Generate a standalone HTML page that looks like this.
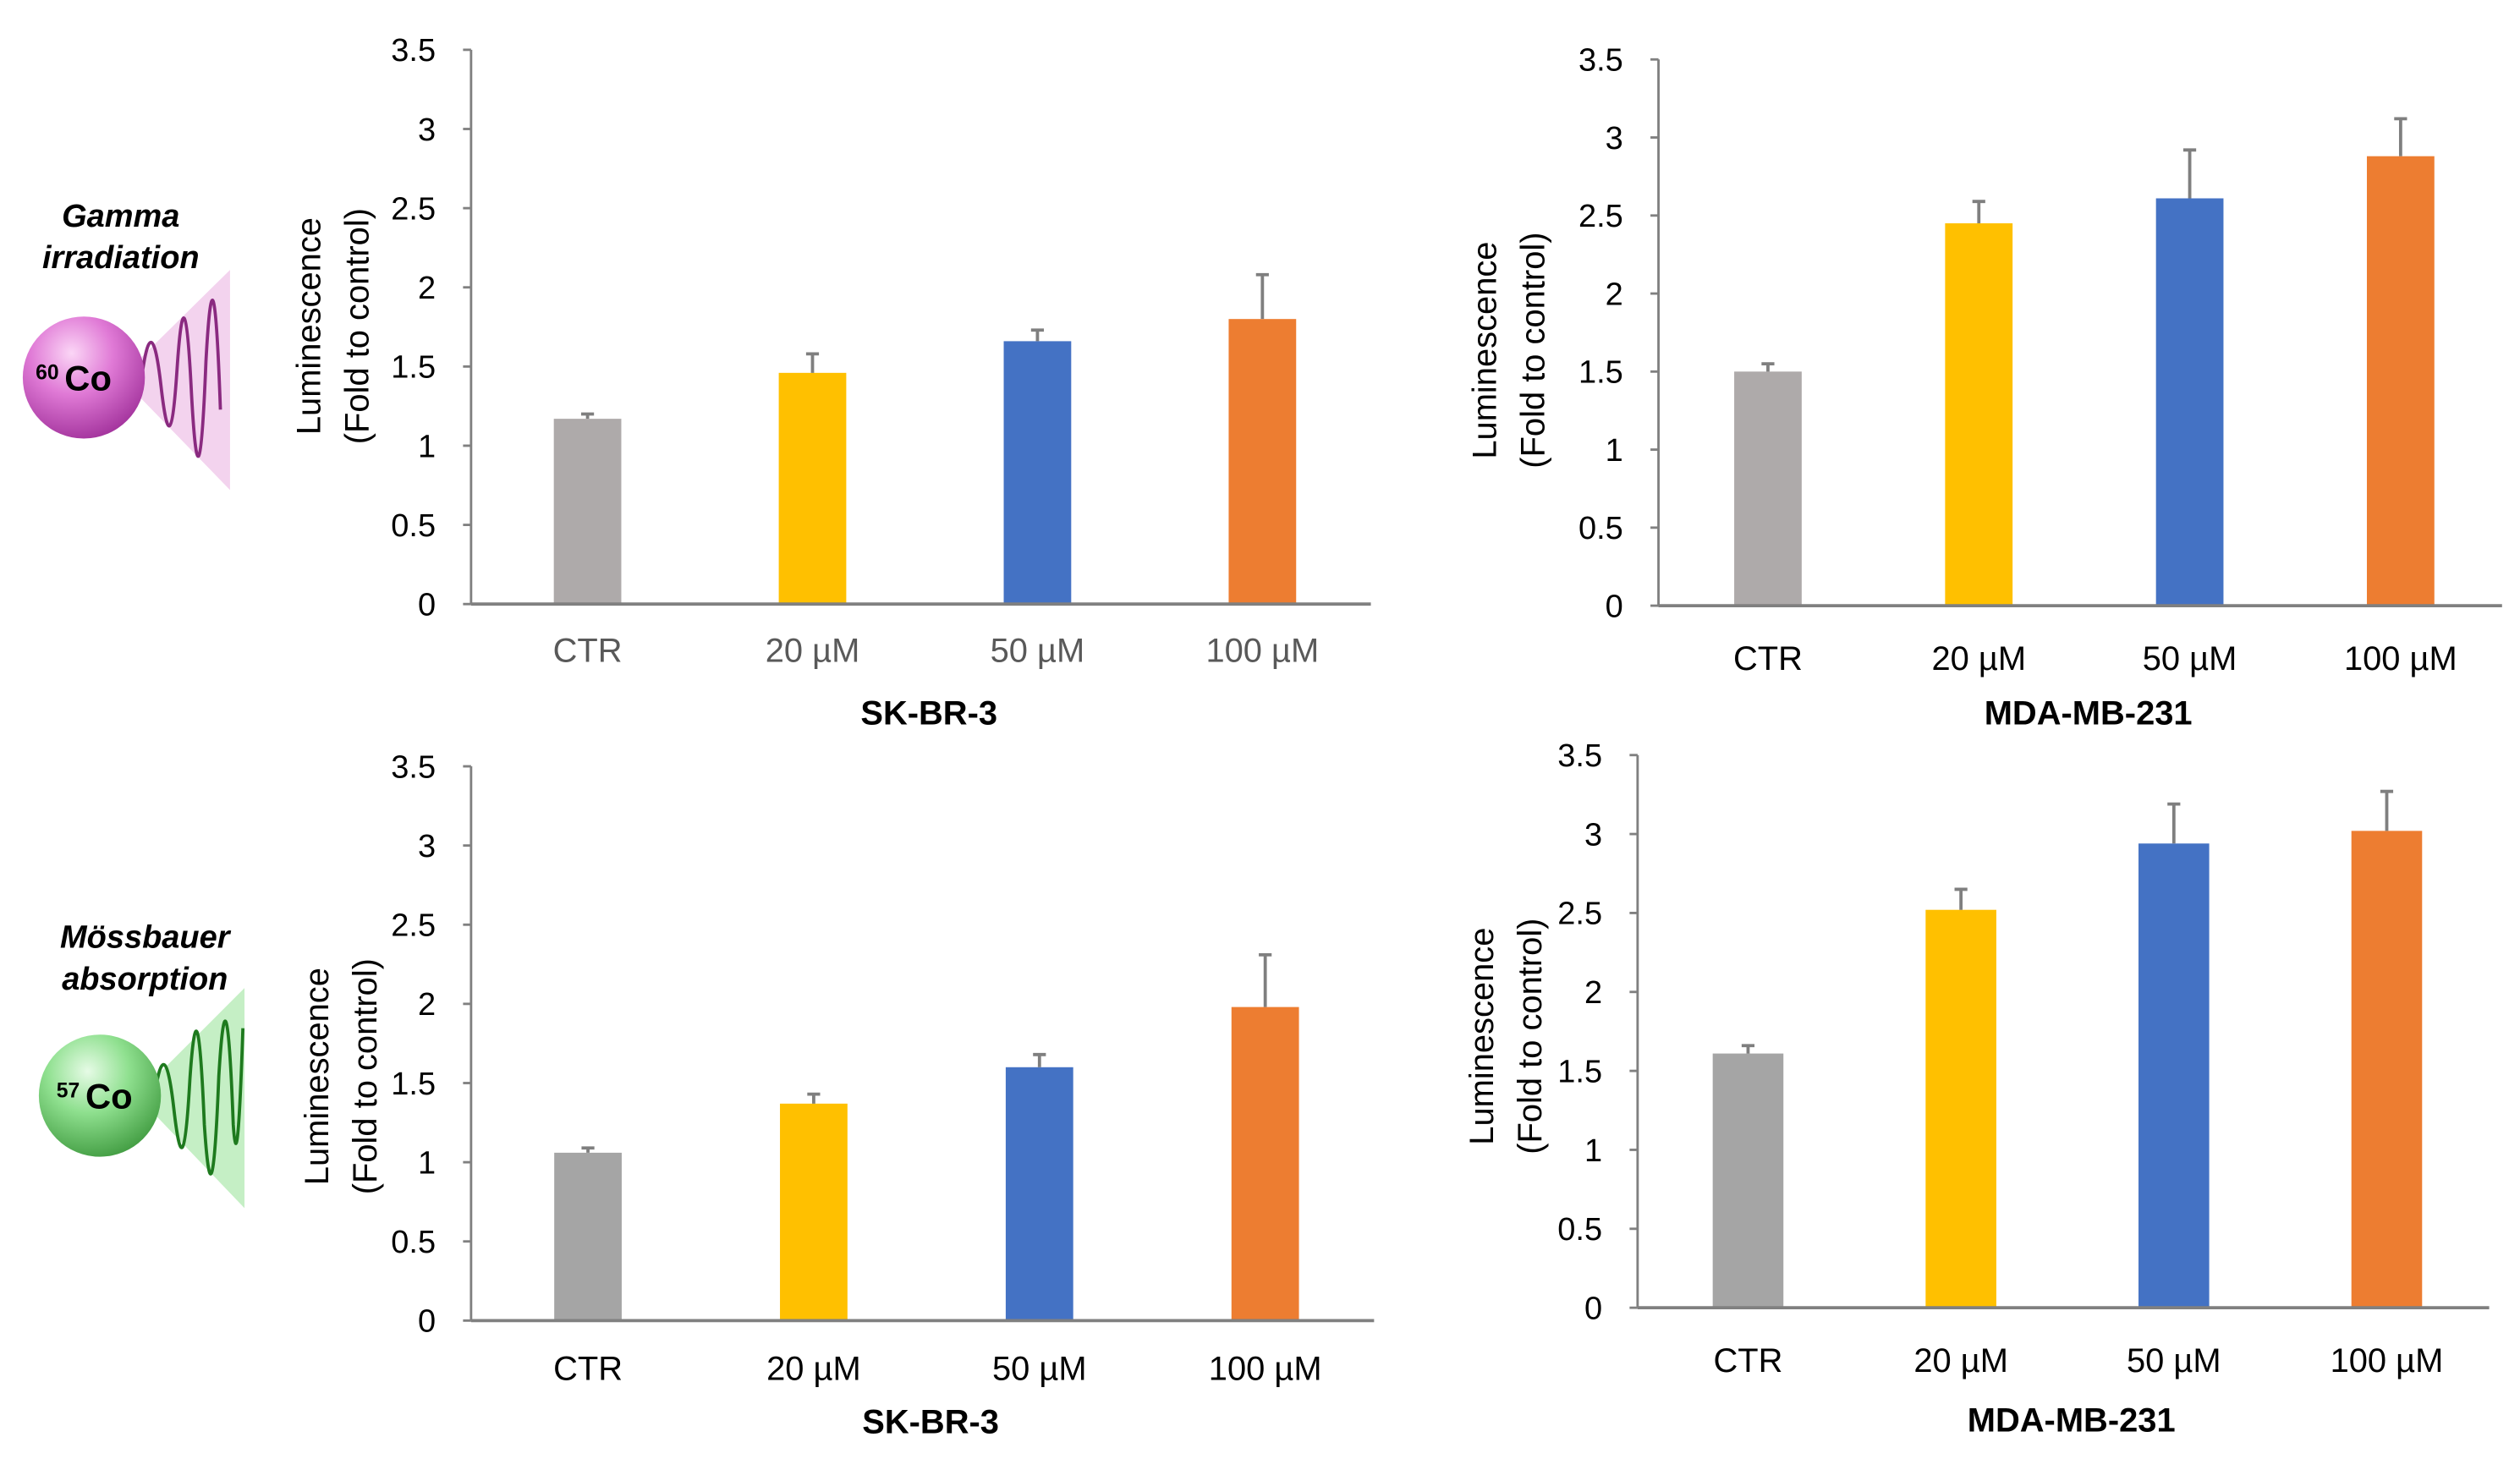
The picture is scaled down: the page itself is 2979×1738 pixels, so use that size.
<!DOCTYPE html>
<html><head><meta charset="utf-8">
<style>
html,body{margin:0;padding:0;background:#fff;}
svg{display:block;}
text{font-family:"Liberation Sans",sans-serif;}
</style></head>
<body>
<svg id="fig" width="2979" height="1738" viewBox="0 0 1568 915" xmlns="http://www.w3.org/2000/svg">
<defs>
<radialGradient id="gPink" cx="0.4" cy="0.3" r="0.75">
<stop offset="0" stop-color="#fbd6f6"/><stop offset="0.45" stop-color="#e07ad6"/><stop offset="1" stop-color="#a0309a"/>
</radialGradient>
<radialGradient id="gGreen" cx="0.4" cy="0.3" r="0.75">
<stop offset="0" stop-color="#e6fbe6"/><stop offset="0.45" stop-color="#8fe08f"/><stop offset="1" stop-color="#3f9a3f"/>
</radialGradient>
</defs>
<g>
<text x="75" y="141" text-anchor="middle" font-size="20" font-weight="bold" font-style="italic">Gamma</text>
<text x="75" y="167" text-anchor="middle" font-size="20" font-weight="bold" font-style="italic">irradiation</text>
<polygon points="75,235 143,168 143,305" fill="#f3d3ee"/>
<path d="M88,235 C92,205 96,205 100,240 C104,275 107,275 110,230 C113,185 116,185 119,245 C122,300 125,300 128,225 C131,170 134,170 137,255" fill="none" stroke="#8a2a80" stroke-width="2"/>
<circle cx="52" cy="235" r="38" fill="url(#gPink)"/>
<text x="22" y="236" font-size="13" font-weight="bold">60</text>
<text x="40" y="243" font-size="22" font-weight="bold">Co</text>
</g>
<g>
<text x="90" y="590" text-anchor="middle" font-size="20" font-weight="bold" font-style="italic">Mössbauer</text>
<text x="90" y="616" text-anchor="middle" font-size="20" font-weight="bold" font-style="italic">absorption</text>
<polygon points="85,682 152,615 152,752" fill="#c5efc5"/>
<path d="M96,682 C100,655 104,655 108,690 C112,725 115,725 118,672 C121,628 124,628 127,700 C130,745 133,745 136,670 C139,620 142,620 145,700 C147,730 149,700 151,640" fill="none" stroke="#1e7a1e" stroke-width="2"/>
<circle cx="62" cy="682" r="38" fill="url(#gGreen)"/>
<text x="35" y="683" font-size="13" font-weight="bold">57</text>
<text x="53" y="690" font-size="22" font-weight="bold">Co</text>
</g>
<g id="charts"></g>
</svg>
<script>
const categories = ["CTR", "20 µM", "50 µM", "100 µM"];
const yTicks = [0, 0.5, 1, 1.5, 2, 2.5, 3, 3.5];
const yTickLabels = ["0", "0.5", "1", "1.5", "2", "2.5", "3", "3.5"];
const skbr3GammaValues = [1.17, 1.46, 1.66, 1.80];
const skbr3GammaErrors = [0.03, 0.12, 0.07, 0.28];
const mdaGammaValues = [1.50, 2.45, 2.61, 2.88];
const mdaGammaErrors = [0.05, 0.14, 0.31, 0.24];
const skbr3MossValues = [1.06, 1.37, 1.60, 1.98];
const skbr3MossErrors = [0.03, 0.06, 0.08, 0.33];
const mdaMossValues = [1.61, 2.52, 2.94, 3.02];
const mdaMossErrors = [0.05, 0.13, 0.25, 0.25];
const chartTitles = ["SK-BR-3", "MDA-MB-231", "SK-BR-3", "MDA-MB-231"];

const NS = "http://www.w3.org/2000/svg";
const root = document.getElementById("charts");
function mk(tag, attrs, parent) {
  const e = document.createElementNS(NS, tag);
  for (const k in attrs) e.setAttribute(k, attrs[k]);
  parent.appendChild(e);
  return e;
}
const colors = ["#AEAAAA", "#FFC000", "#4472C4", "#ED7D31"];
const layouts = [
  {x0:293, x1:853, yTop:31, yBot:376, barW:42, catY:412, titleY:451, ax1:192, ax2:222, axY:203, gray:"#AEAAAA", vals:skbr3GammaValues, errs:skbr3GammaErrors, name:"skbr3-gamma"},
  {x0:1032, x1:1557, yTop:37, yBot:377, barW:42, catY:417, titleY:451, ax1:924, ax2:954, axY:218, gray:"#AEAAAA", vals:mdaGammaValues, errs:mdaGammaErrors, name:"mda-gamma"},
  {x0:293, x1:855, yTop:477, yBot:822, barW:42, catY:859, titleY:892, ax1:197, ax2:227, axY:670, gray:"#A5A5A5", vals:skbr3MossValues, errs:skbr3MossErrors, name:"skbr3-mossbauer"},
  {x0:1019, x1:1549, yTop:470, yBot:814, barW:44, catY:854, titleY:891, ax1:922, ax2:952, axY:645, gray:"#A5A5A5", vals:mdaMossValues, errs:mdaMossErrors, name:"mda-mossbauer"}
];
layouts.forEach((L, ci) => {
  const g = mk("g", {}, root);
  
  
  const yScale = v => L.yBot - (v / 3.5) * (L.yBot - L.yTop);
  const pad = (L.x1 - L.x0) / 8;
  const xScale = i => L.x0 + 2.5 + pad * (1 + 2 * i);
  const ya = mk("line", {x1:L.x0, y1:L.yTop, x2:L.x0, y2:L.yBot, stroke:"#808080", "stroke-width":1.5}, g);
  
  
  yTicks.forEach((t, i) => {
    const y = yScale(t);
    mk("line", {x1:L.x0 - 5, y1:y, x2:L.x0, y2:y, stroke:"#808080", "stroke-width":1.5}, g);
    const tl = mk("text", {x:L.x0 - 22, y:y + 7, "text-anchor":"end", "font-size":20, fill:"#000"}, g);
    tl.textContent = yTickLabels[i];
    
    
  });
  L.vals.forEach((v, i) => {
    const cx = xScale(i);
    const col = i === 0 ? L.gray : colors[i];
    const b = mk("rect", {x:cx - L.barW/2, y:yScale(v), width:L.barW, height:L.yBot - yScale(v), fill:col}, g);
    
    
    const top = yScale(v + L.errs[i]);
    const eb = mk("path", {d:`M${cx},${yScale(v)} V${top} M${cx-4},${top} H${cx+4}`, stroke:"#7f7f7f", "stroke-width":2, fill:"none"}, g);
    
    
    const cl = mk("text", {x:cx, y:L.catY, "text-anchor":"middle", "font-size":21, fill: ci === 0 ? "#595959" : "#000"}, g);
    cl.textContent = categories[i];
    
    
  });
  const xa = mk("line", {x1:L.x0, y1:L.yBot, x2:L.x1, y2:L.yBot, stroke:"#808080", "stroke-width":2}, g);
  
  
  const tt = mk("text", {x:(L.x0 + L.x1) / 2 + 5, y:L.titleY, "text-anchor":"middle", "font-size":21, "font-weight":"bold"}, g);
  tt.textContent = chartTitles[ci];
  
  
  const a1 = mk("text", {x:L.ax1, y:L.axY, "text-anchor":"middle", "font-size":21, transform:`rotate(-90 ${L.ax1} ${L.axY})`, dy:"7"}, g);
  a1.textContent = "Luminescence";
  
  
  const a2 = mk("text", {x:L.ax2, y:L.axY, "text-anchor":"middle", "font-size":21, transform:`rotate(-90 ${L.ax2} ${L.axY})`, dy:"7"}, g);
  a2.textContent = "(Fold to control)";
  
  
});
</script>
</body></html>
